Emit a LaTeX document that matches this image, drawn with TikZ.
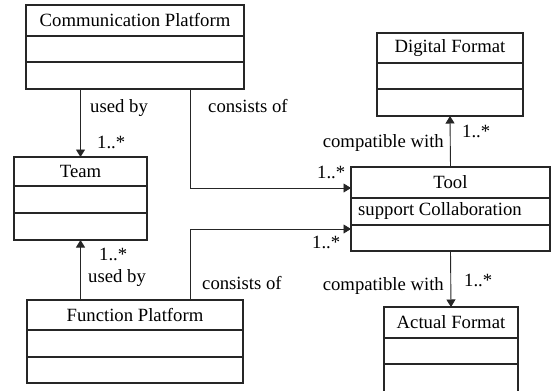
\documentclass[tikz,border=0pt]{standalone}
\usepackage{fontspec}
\setmainfont{Liberation Serif}
\usetikzlibrary{arrows.meta}

\tikzset{
  classbox/.style={draw=black!85, line width=1.4pt, inner sep=0pt, outer sep=0pt},
  divider/.style={draw=black!85, line width=1.4pt},
  title/.style={inner sep=0pt, font=\fontsize{18.7}{22}\selectfont},
  lbl/.style={inner sep=0pt, anchor=base west, font=\fontsize{18.7}{22}\selectfont},
  assoc/.style={draw=black!85, line width=0.9pt, -{Triangle[length=7.5pt,width=9pt]}},
}

% \umlclass{name}{left}{top}{right}{bottom}{divider 1}{divider 2}{title}
\newcommand\umlclass[8]{%
  \node[classbox, minimum width={#4-#2}, minimum height={#5-#3}]
    (#1) at ({(#2+#4)/2},{(#3+#5)/2}) {};
  \node[title] (#1-title) at ({(#2+#4)/2},{(#3+#6)/2}) {#8};
  \draw[divider] (#2,#6) -- (#4,#6);
  \draw[divider] (#2,#7) -- (#4,#7);
}

\begin{document}
\begin{tikzpicture}[x=1pt, y=-1pt]
  \useasboundingbox (0,0) rectangle (552,391);

  % classes
  \umlclass{cp}{26}{5}{244}{89}{36}{62}{Communication Platform}
  \umlclass{team}{14}{157}{147}{240}{186}{213}{Team}
  \umlclass{fp}{27}{300}{243}{383}{330}{357}{Function Platform}
  \umlclass{df}{377}{33}{523}{116}{63}{89}{Digital Format}
  \umlclass{tool}{351}{167}{550}{251}{198}{225}{Tool}
  \umlclass{af}{384}{307}{518}{393}{338}{364}{Actual Format}
  \node[lbl, anchor=west] (tool-op) at (358,211) {support Collaboration};

  % bend points of the composition links
  \coordinate (bendA) at (190,188);
  \coordinate (bendB) at (190,229);

  % associations
  \draw[assoc] (cp.south -| team.north) -- (team.north);
  \draw[assoc] (fp.north -| team.south) -- (team.south);
  \draw[assoc] (cp.south -| bendA) |- (tool.west |- bendA);
  \draw[assoc] (fp.north -| bendB) |- (tool.west |- bendB);
  \draw[assoc] (tool.north) -- (df.south);
  \draw[assoc] (tool.south) -- (af.north);

  % role names and multiplicities
  \node[lbl] (l-usedA) at (90,112) {used by};
  \node[lbl] (m-usedA) at (97,148) {1..*};
  \node[lbl] (l-consA) at (208,112) {consists of};
  \node[lbl] (m-consA) at (317,178) {1..*};

  \node[lbl] (m-usedB) at (99,260) {1..*};
  \node[lbl] (l-usedB) at (88,282) {used by};
  \node[lbl] (l-consB) at (202,289) {consists of};
  \node[lbl] (m-consB) at (312,248) {1..*};

  \node[lbl, anchor=base east] (l-compA) at (444,147) {compatible with};
  \node[lbl] (m-compA) at (462,137) {1..*};
  \node[lbl, anchor=base east] (l-compB) at (444,290) {compatible with};
  \node[lbl] (m-compB) at (464,286) {1..*};
\end{tikzpicture}
\end{document}
